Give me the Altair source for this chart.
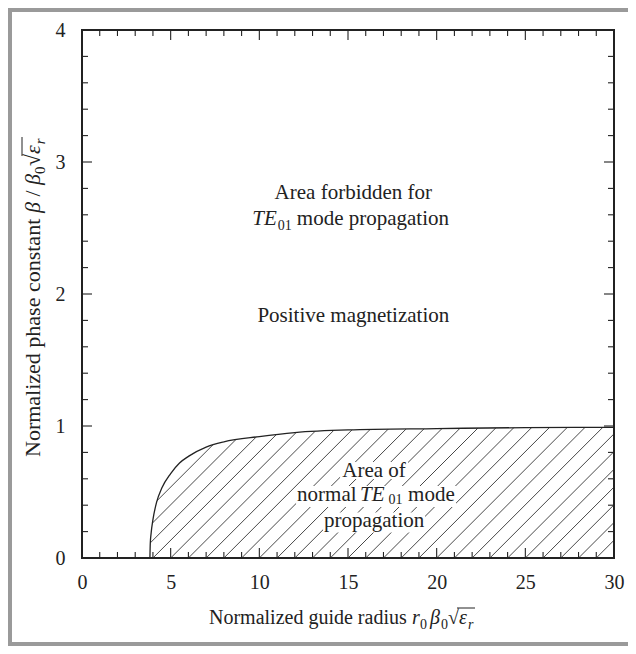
import altair as alt
import pandas as pd

# ---- data ----
curve_x = [3.83, 3.85, 3.9, 4.0, 4.2, 4.5, 5.0, 5.5, 6.0, 7.0, 8.0, 10.0, 12.0, 15.0, 20.0, 25.0, 30.0]
curve_y = [0.0, 0.11, 0.19, 0.29, 0.42, 0.53, 0.64, 0.72, 0.77, 0.84, 0.88, 0.92, 0.95, 0.97, 0.98, 0.988, 0.99]
x_labels = [0, 5, 10, 15, 20, 25, 30]
y_labels = [0, 1, 2, 3, 4]
x_major = [5, 10, 15, 20, 25]
x_minor = [1, 2, 3, 4, 6, 7, 8, 9, 11, 12, 13, 14, 16, 17, 18, 19, 21, 22, 23, 24, 26, 27, 28, 29]
y_major = [1, 2, 3]
y_minor = [0.2, 0.4, 0.6, 0.8, 1.2, 1.4, 1.6, 1.8, 2.2, 2.4, 2.6, 2.8, 3.2, 3.4, 3.6, 3.8]
hatch_start = list(range(-4, 30))   # where the hatch lines meet the x axis
cutoff = 3.83

W, H = 532, 528
FONT = "Liberation Serif"
INK = "#222222"
GRAY = "#9a9a9a"
PX = 30 / W      # data units per pixel along x
PY = 4 / H       # data units per pixel along y

xs = alt.Scale(domain=[0, 30], nice=False, zero=False)
ys = alt.Scale(domain=[0, 4], nice=False, zero=False)
xaxis = alt.Axis(values=x_labels, format="d", ticks=False, tickSize=0, domain=False, grid=False, title=None,
                 labelFont=FONT, labelFontSize=20, labelColor=INK, labelPadding=30,
                 labelBaseline="alphabetic", labelFlush=False, labelOverlap=False)
yaxis = alt.Axis(values=y_labels, format="d", ticks=False, tickSize=0, domain=False, grid=False, title=None,
                 labelFont=FONT, labelFontSize=20, labelColor=INK, labelPadding=17,
                 labelBaseline="middle", labelFlush=False, labelOverlap=False)

# hatch lines at 45 degrees in pixel space
run = (H / 4) / (W / 30)
hatch = pd.DataFrame({
    "x0": hatch_start,
    "x1": [s + run for s in hatch_start],
    "y0": [0.0] * len(hatch_start),
    "y1": [1.0] * len(hatch_start),
})
curve = pd.DataFrame({"x": curve_x, "y": curve_y, "top": [1.05] * len(curve_x)})

layers = []
layers.append(
    alt.Chart(hatch).mark_rule(color="#333333", strokeWidth=0.9, clip=True).encode(
        x=alt.X("x0:Q", scale=xs, axis=xaxis),
        x2="x1:Q",
        y=alt.Y("y0:Q", scale=ys, axis=yaxis),
        y2="y1:Q",
    )
)
# white mask above curve
layers.append(
    alt.Chart(curve).mark_area(color="white", interpolate="monotone", clip=True).encode(
        x="x:Q", y="y:Q", y2="top:Q"
    )
)
layers.append(
    alt.Chart(curve).mark_rect(color="white").encode(
        x=alt.datum(0), x2=alt.datum(cutoff), y=alt.datum(0), y2=alt.datum(1.05)
    )
)
layers.append(
    alt.Chart(curve).mark_line(color=INK, strokeWidth=1.3, interpolate="monotone").encode(
        x="x:Q", y="y:Q"
    )
)
# frame
layers.append(
    alt.Chart(curve).mark_rect(fillOpacity=0, stroke=INK, strokeWidth=1.8).encode(
        x=alt.datum(0), x2=alt.datum(30), y=alt.datum(0), y2=alt.datum(4)
    )
)
# inward ticks
def xt(vals, length, bottom):
    df = pd.DataFrame({"t": vals})
    if bottom:
        yv, y2v = H, H - length
    else:
        yv, y2v = 0, length
    return alt.Chart(df).mark_rule(color=INK, strokeWidth=1.1).encode(
        x="t:Q", y=alt.value(yv), y2=alt.value(y2v))

def yt(vals, length, left):
    df = pd.DataFrame({"t": vals})
    if left:
        xv, x2v = 0, length
    else:
        xv, x2v = W, W - length
    return alt.Chart(df).mark_rule(color=INK, strokeWidth=1.1).encode(
        y="t:Q", x=alt.value(xv), x2=alt.value(x2v))

layers += [xt(x_minor, 6, True), xt(x_minor, 6, False), xt(x_major, 10, True), xt(x_major, 10, False),
           yt(y_minor, 6, True), yt(y_minor, 6, False), yt(y_major, 10, True), yt(y_major, 10, False)]

one = pd.DataFrame({"a": [0]})

def txt(text, x, y, size=21, italic=False, align="left", dx=0, dy=0, angle=0, pixel=False):
    enc = {}
    if pixel:
        enc["x"] = alt.value(x)
        enc["y"] = alt.value(y)
    else:
        enc["x"] = alt.datum(x)
        enc["y"] = alt.datum(y)
    props = dict(text=text, font=FONT, fontSize=size, align=align, baseline="alphabetic",
                 dx=dx, dy=dy, fontStyle="italic" if italic else "normal")
    if angle:
        props["angle"] = angle
    return [alt.Chart(one).mark_text(color=INK, **props).encode(**enc)]

def knockout(x, y, left_px, right_px, up_px, down_px):
    # white box behind a text line inside the hatched area
    return alt.Chart(one).mark_rect(color="white").encode(
        x=alt.datum(x - left_px * PX), x2=alt.datum(x + right_px * PX),
        y=alt.datum(y - down_px * PY), y2=alt.datum(y + up_px * PY))

# upper annotations
cx1 = 15.3
layers += txt("Area forbidden for", cx1, 2.72, align="center")
layers += txt("TE", cx1, 2.52, italic=True, dx=-101)
layers += txt("01", cx1, 2.52, size=14, dx=-75.5, dy=5)
layers += txt("mode propagation", cx1, 2.52, dx=-56.5)
layers += txt("Positive magnetization", cx1, 1.79, align="center")

# lower annotations (inside hatched area) with white knock-out behind each line
cx2 = 16.47
layers.append(knockout(cx2, 0.614, 34, 34, 15, 2))
layers.append(knockout(cx2, 0.432, 78, 82, 15, 6))
layers.append(knockout(cx2, 0.232, 51, 51, 15, 5))
layers += txt("Area of", cx2, 0.614, align="center")
layers += txt("normal", cx2, 0.432, dx=-77)
layers += txt("TE", cx2, 0.432, italic=True, dx=-14)
layers += txt("01", cx2, 0.432, size=14, dx=14.5, dy=3.5)
layers += txt("mode", cx2, 0.432, dx=34)
layers += txt("propagation", cx2, 0.232, align="center")

# x axis title (pixel positions relative to plot area)
bx = 594
layers += txt("Normalized guide radius", 127, bx, size=20, pixel=True)
layers += txt("r", 330, bx, size=20, italic=True, pixel=True)
layers += txt("0", 338, bx + 5, size=14, pixel=True)
layers += txt("β", 348, bx, size=20, italic=True, pixel=True)
layers += txt("0", 359, bx + 5, size=14, pixel=True)
layers += txt("√", 366, bx, size=20, pixel=True)
layers += txt("ε", 377, bx, size=20, italic=True, pixel=True)
layers += txt("r", 386, bx + 5, size=14, italic=True, pixel=True)
layers.append(alt.Chart(one).mark_rule(color=INK, strokeWidth=1).encode(
    x=alt.value(375), x2=alt.value(393), y=alt.value(bx - 16)))

# y axis title (rotated)
byx = -42
YS = 22
layers += txt("Normalized phase constant", byx, 427, size=YS, angle=270, pixel=True)
layers += txt("β", byx, 183, size=YS, italic=True, angle=270, pixel=True)
layers += txt("/", byx, 166.5, size=YS, angle=270, pixel=True)
layers += txt("β", byx, 155, size=YS, italic=True, angle=270, pixel=True)
layers += txt("0", byx + 5, 144, size=15, angle=270, pixel=True)
layers += txt("√", byx, 136, size=YS, angle=270, pixel=True)
layers += txt("ε", byx, 124, size=YS, italic=True, angle=270, pixel=True)
layers += txt("r", byx + 5, 114.3, size=15, italic=True, angle=270, pixel=True)
layers.append(alt.Chart(one).mark_rule(color=INK, strokeWidth=1).encode(
    x=alt.value(byx - 18), y=alt.value(126), y2=alt.value(107)))

# gray outer frame
layers.append(alt.Chart(one).mark_rule(color=GRAY, strokeWidth=4).encode(
    x=alt.value(-72), y=alt.value(-22), y2=alt.value(616)))
layers.append(alt.Chart(one).mark_rule(color=GRAY, strokeWidth=4).encode(
    x=alt.value(-74), x2=alt.value(546), y=alt.value(-20)))
layers.append(alt.Chart(one).mark_rule(color=GRAY, strokeWidth=4).encode(
    x=alt.value(-74), x2=alt.value(546), y=alt.value(614)))

chart = alt.layer(*layers).properties(
    width=W, height=H,
    autosize=alt.AutoSizeParams(type="none"),
    padding={"left": 74, "top": 22, "right": 14, "bottom": 88},
).configure_view(strokeOpacity=0)

chart.save("out.html", embed_options={"renderer": "svg", "actions": False})
